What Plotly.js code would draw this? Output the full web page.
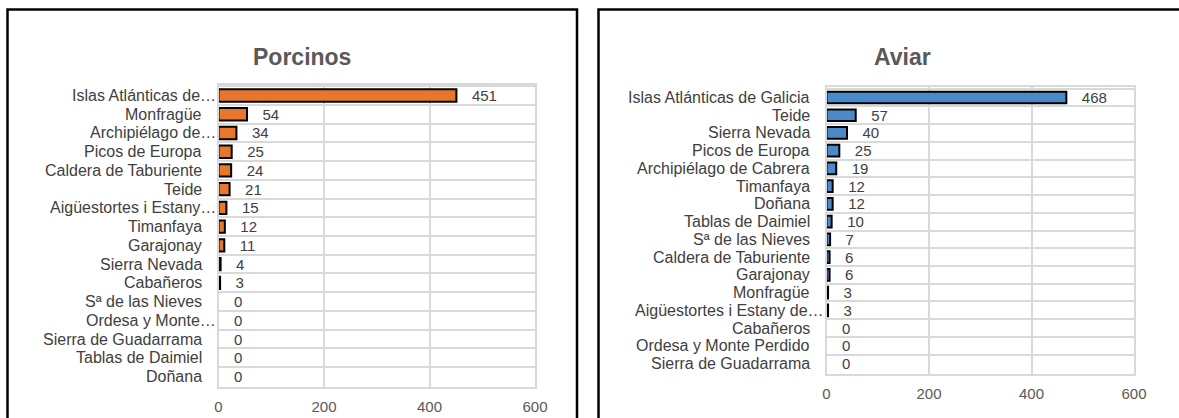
<!DOCTYPE html>
<html>
<head>
<meta charset="utf-8">
<script src="https://cdn.plot.ly/plotly-3.0.1.min.js"></script>
<style>html,body{margin:0;padding:0;background:#fff;}#chart{width:1179px;height:418px;}</style>
</head>
<body>
<div id="chart"></div>
<script>
// ---- Data ----
const porcinosCategories = ["Islas Atlánticas de…", "Monfragüe", "Archipiélago de…", "Picos de Europa", "Caldera de Taburiente", "Teide", "Aigüestortes i Estany…", "Timanfaya", "Garajonay", "Sierra Nevada", "Cabañeros", "Sª de las Nieves", "Ordesa y Monte…", "Sierra de Guadarrama", "Tablas de Daimiel", "Doñana"];
const porcinosValues = [451, 54, 34, 25, 24, 21, 15, 12, 11, 4, 3, 0, 0, 0, 0, 0];

const aviarCategories = ["Islas Atlánticas de Galicia", "Teide", "Sierra Nevada", "Picos de Europa", "Archipiélago de Cabrera", "Timanfaya", "Doñana", "Tablas de Daimiel", "Sª de las Nieves", "Caldera de Taburiente", "Garajonay", "Monfragüe", "Aigüestortes i Estany de…", "Cabañeros", "Ordesa y Monte Perdido", "Sierra de Guadarrama"];
const aviarValues = [468, 57, 40, 25, 19, 12, 12, 10, 7, 6, 6, 3, 3, 0, 0, 0];

const xTickValues = [0, 200, 400, 600];
const chartTitles = ["Porcinos", "Aviar"];

// ---- Layout helpers ----
const W = 1179, H = 418;
const px = v => v / W;
const py = v => 1 - v / H;
const FONT = "Liberation Sans, Arial, sans-serif";
const GRID = "#d9d9d9";

const LEFT_X0 = 218.5, LEFT_X1 = 535, RIGHT_X0 = 826.5, RIGHT_X1 = 1134;

function barTrace(cats, vals, color, xa, ya) {
  return {
    type: "bar", orientation: "h",
    x: vals, y: cats, xaxis: xa, yaxis: ya,
    marker: { color: color, line: { color: "#000", width: vals.map(v => v > 0 ? 2 : 0) } },
    width: 0.66,
    text: vals.map(v => "\u00a0\u00a0\u00a0" + v),
    textposition: "outside",
    constraintext: "none",
    outsidetextfont: { family: FONT, size: 15, color: "#404040" },
    textfont: { family: FONT, size: 15, color: "#404040" },
    cliponaxis: false,
    hoverinfo: "x+y"
  };
}

function xAxis(domain, anchor) {
  return {
    domain: domain, anchor: anchor, range: [0, 600],
    tickvals: xTickValues, ticks: "", showgrid: true, gridcolor: GRID, gridwidth: 2,
    zeroline: false, showline: true, linecolor: GRID, linewidth: 2, mirror: true,
    tickfont: { family: FONT, size: 15, color: "#595959" }, ticklabelstandoff: 5,
    fixedrange: true
  };
}
function yAxis(domain, anchor, cats) {
  return {
    domain: domain, anchor: anchor, type: "category", autorange: "reversed",
    categoryarray: cats, categoryorder: "array",
    tickson: "boundaries", ticks: "", showgrid: true, gridcolor: GRID, gridwidth: 2,
    showline: true, linecolor: GRID, linewidth: 2, mirror: true,
    showticklabels: false,
    fixedrange: true
  };
}

function labelAnnotations(cats, yref, axisX) {
  return cats.map(c => ({
    text: c, xref: "paper", yref: yref, x: px(axisX), y: c,
    xanchor: "right", yanchor: "middle", showarrow: false,
    xshift: c.endsWith("…") ? -1 : -15,
    font: { family: FONT, size: 16, color: "#404040" }
  }));
}

const data = [
  barTrace(porcinosCategories, porcinosValues, "#E8772E", "x", "y"),
  barTrace(aviarCategories, aviarValues, "#4A8ACB", "x2", "y2")
];

const layout = {
  width: W, height: H, margin: { l: 0, r: 0, t: 0, b: 0 },
  paper_bgcolor: "#fff", plot_bgcolor: "#fff", showlegend: false,
  bargap: 0.34,
  xaxis: xAxis([px(LEFT_X0), px(LEFT_X1)], "y"),
  yaxis: yAxis([py(387), py(85)], "x", porcinosCategories),
  xaxis2: xAxis([px(RIGHT_X0), px(RIGHT_X1)], "y2"),
  yaxis2: yAxis([py(374), py(87)], "x2", aviarCategories),
  shapes: [
    { type: "rect", xref: "paper", yref: "paper", x0: px(7.5), x1: px(577), y0: py(430), y1: py(9.5), line: { color: "#000", width: 2.5 }, layer: "below" },
    { type: "rect", xref: "paper", yref: "paper", x0: px(598.5), x1: px(1190), y0: py(430), y1: py(9.5), line: { color: "#000", width: 2.5 }, layer: "below" }
  ],
  annotations: [
    { text: "<b>" + chartTitles[0] + "</b>", xref: "paper", yref: "paper", x: px(302), y: py(57), xanchor: "center", yanchor: "middle", showarrow: false, font: { family: FONT, size: 23, color: "#595959" } },
    { text: "<b>" + chartTitles[1] + "</b>", xref: "paper", yref: "paper", x: px(902), y: py(57), xanchor: "center", yanchor: "middle", showarrow: false, font: { family: FONT, size: 23, color: "#595959" } }
  ].concat(labelAnnotations(porcinosCategories, "y", LEFT_X0), labelAnnotations(aviarCategories, "y2", RIGHT_X0))
};

Plotly.newPlot("chart", data, layout, { displayModeBar: false, staticPlot: true });
</script>
</body>
</html>
